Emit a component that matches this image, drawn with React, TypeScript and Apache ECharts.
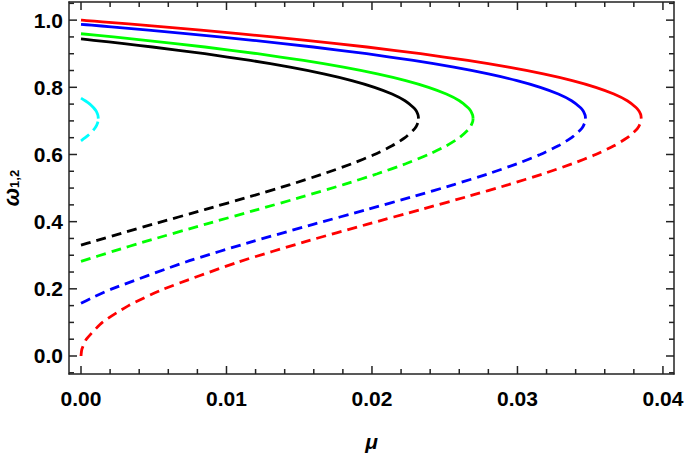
import React, { useEffect, useRef } from "react";
import * as echarts from "echarts";

// μ values and the two branches (upper solid, lower dashed) of each curve
const muRed = [0, 0.00006, 0.00037, 0.00147, 0.00327, 0.00567, 0.01082, 0.01548, 0.01965, 0.02334, 0.02659, 0.02939, 0.03178, 0.03377, 0.03538, 0.03663, 0.03755, 0.03815, 0.03834, 0.03846, 0.03849, 0.03851];
const upperRed = [1.0, 0.9998, 0.99875, 0.99499, 0.98869, 0.98, 0.96, 0.94, 0.92, 0.9, 0.88, 0.86, 0.84, 0.82, 0.8, 0.78, 0.76, 0.74, 0.73, 0.72, 0.715, 0.7071];
const lowerRed = [0, 0.02, 0.05, 0.1, 0.15, 0.199, 0.28, 0.3412, 0.3919, 0.4359, 0.475, 0.5103, 0.5426, 0.5724, 0.6, 0.6258, 0.6499, 0.6726, 0.6835, 0.694, 0.6991, 0.7071];

const muBlue = [0, 0.000725, 0.00208, 0.0072, 0.01182, 0.01596, 0.01963, 0.02285, 0.02563, 0.028, 0.02997, 0.03157, 0.03281, 0.03372, 0.03432, 0.03451, 0.03462, 0.03466, 0.03468];
const upperBlue = [0.9876, 0.985, 0.98, 0.96, 0.94, 0.92, 0.9, 0.88, 0.86, 0.84, 0.82, 0.8, 0.78, 0.76, 0.74, 0.73, 0.72, 0.715, 0.7071];
const lowerBlue = [0.1569, 0.1726, 0.199, 0.28, 0.3412, 0.3919, 0.4359, 0.475, 0.5103, 0.5426, 0.5724, 0.6, 0.6258, 0.6499, 0.6726, 0.6835, 0.694, 0.6991, 0.7071];

const muGreen = [0, 0.00223, 0.00444, 0.00852, 0.01213, 0.0153, 0.01804, 0.02037, 0.02232, 0.02389, 0.02511, 0.02601, 0.02659, 0.02678, 0.02689, 0.02693, 0.02695];
const upperGreen = [0.9595, 0.95, 0.94, 0.92, 0.9, 0.88, 0.86, 0.84, 0.82, 0.8, 0.78, 0.76, 0.74, 0.73, 0.72, 0.715, 0.7071];
const lowerGreen = [0.2816, 0.3122, 0.3412, 0.3919, 0.4359, 0.475, 0.5103, 0.5426, 0.5724, 0.6, 0.6258, 0.6499, 0.6726, 0.6835, 0.694, 0.6991, 0.7071];

const muBlack = [0, 0.00087, 0.00295, 0.00491, 0.0085, 0.01165, 0.01437, 0.01668, 0.01861, 0.02017, 0.02138, 0.02227, 0.02285, 0.02304, 0.02315, 0.02318, 0.0232];
const upperBlack = [0.944, 0.94, 0.93, 0.92, 0.9, 0.88, 0.86, 0.84, 0.82, 0.8, 0.78, 0.76, 0.74, 0.73, 0.72, 0.715, 0.7071];
const lowerBlack = [0.3299, 0.3412, 0.3676, 0.3919, 0.4359, 0.475, 0.5103, 0.5426, 0.5724, 0.6, 0.6258, 0.6499, 0.6726, 0.6835, 0.694, 0.6991, 0.7071];

const muCyan = [0, 0.00029, 0.00061, 0.00085, 0.00103, 0.00114, 0.00117, 0.00119];
const upperCyan = [0.7678, 0.76, 0.75, 0.74, 0.73, 0.72, 0.715, 0.7071];
const lowerCyan = [0.6407, 0.6499, 0.6614, 0.6726, 0.6835, 0.694, 0.6991, 0.7071];

// axis ranges and ticks
const xRange = [-0.000825, 0.04076];
const yRange = [-0.0536, 1.054];
const xMajorTicks = [0, 0.01, 0.02, 0.03, 0.04];
const xMinorTicks = [0.002, 0.004, 0.006, 0.008, 0.012, 0.014, 0.016, 0.018, 0.022, 0.024, 0.026, 0.028, 0.032, 0.034, 0.036, 0.038];
const yMajorTicks = [0, 0.2, 0.4, 0.6, 0.8, 1.0];
const yMinorTicks = [-0.05, 0.05, 0.1, 0.15, 0.25, 0.3, 0.35, 0.45, 0.5, 0.55, 0.65, 0.7, 0.75, 0.85, 0.9, 0.95, 1.05];

const curves = [
  { name: "black", color: "#000000", mu: muBlack, upper: upperBlack, lower: lowerBlack },
  { name: "green", color: "#00ff00", mu: muGreen, upper: upperGreen, lower: lowerGreen },
  { name: "blue", color: "#0000ff", mu: muBlue, upper: upperBlue, lower: lowerBlue },
  { name: "red", color: "#ff0000", mu: muRed, upper: upperRed, lower: lowerRed },
  { name: "cyan", color: "#00ffff", mu: muCyan, upper: upperCyan, lower: lowerCyan },
];

const FONT = "'Liberation Sans', Arial, sans-serif";
const AXIS_COLOR = "#222";
const GRID = { left: 69, right: 11, top: 2, bottom: 79 };
const W = 685;
const H = 453;
const MAJOR_LEN = 8;
const MINOR_LEN = 5;

export default function App() {
  const ref = useRef<HTMLDivElement>(null);
  useEffect(() => {
    if (!ref.current) return;
    const chart = echarts.init(ref.current, undefined, { renderer: "svg" });

    const labelStyle = { fontSize: 21, fontWeight: "bold", color: "#000", fontFamily: FONT };
    const frameAxis = (isX: boolean, position: string, extra: any = {}) => ({
      type: "value",
      min: isX ? xRange[0] : yRange[0],
      max: isX ? xRange[1] : yRange[1],
      position,
      axisLine: { show: true, onZero: false, lineStyle: { color: AXIS_COLOR, width: 1.5 } },
      axisTick: { show: false },
      splitLine: { show: false },
      axisLabel: { show: false },
      ...extra,
    });

    const xAxes = [
      frameAxis(true, "bottom", {
        axisLabel: {
          show: true,
          customValues: xMajorTicks,
          margin: 14,
          ...labelStyle,
          formatter: (v: number) => v.toFixed(2),
        },
        name: "μ",
        nameLocation: "middle",
        nameGap: 58,
        nameTextStyle: { fontSize: 21, lineHeight: 18, fontWeight: "bold", fontStyle: "italic", color: "#000", fontFamily: FONT },
      }),
      frameAxis(true, "top"),
    ];
    const yAxes = [
      frameAxis(false, "left", {
        axisLabel: {
          show: true,
          customValues: yMajorTicks,
          margin: 6,
          ...labelStyle,
          formatter: (v: number) => v.toFixed(1),
        },
        name: "{w|ω}{s|1,2}",
        nameLocation: "middle",
        nameGap: 30,
        nameTextStyle: {
          color: "#000",
          fontFamily: FONT,
          rich: {
            w: { fontSize: 22, fontWeight: "bold", fontStyle: "italic", fontFamily: FONT, color: "#000", lineHeight: 18 },
            s: { fontSize: 13, fontWeight: "bold", fontFamily: FONT, color: "#000", verticalAlign: "bottom", lineHeight: 12 },
          },
        },
      }),
      frameAxis(false, "right"),
    ];

    // tick marks: one short two-point line series per tick, in data units through the axes' scales
    const plotW = W - GRID.left - GRID.right;
    const plotH = H - GRID.top - GRID.bottom;
    const dxPerPx = (xRange[1] - xRange[0]) / plotW;
    const dyPerPx = (yRange[1] - yRange[0]) / plotH;
    const tickSegments: number[][][] = [];
    const addX = (v: number, len: number) => {
      const d = len * dyPerPx;
      tickSegments.push([[v, yRange[0]], [v, yRange[0] + d]]);
      tickSegments.push([[v, yRange[1] - d], [v, yRange[1]]]);
    };
    const addY = (v: number, len: number) => {
      const d = len * dxPerPx;
      tickSegments.push([[xRange[0], v], [xRange[0] + d, v]]);
      tickSegments.push([[xRange[1] - d, v], [xRange[1], v]]);
    };
    xMajorTicks.forEach((v) => addX(v, MAJOR_LEN));
    xMinorTicks.forEach((v) => addX(v, MINOR_LEN));
    yMajorTicks.forEach((v) => addY(v, MAJOR_LEN));
    yMinorTicks.forEach((v) => addY(v, MINOR_LEN));

    const series: any[] = [];
    curves.forEach((c) => {
      series.push({
        type: "line",
        name: c.name + " upper",
        data: c.mu.map((m, i) => [m, c.upper[i]]),
        showSymbol: false,
        smooth: 0.2,
        lineStyle: { color: c.color, width: 2.8, type: "solid" },
      });
      series.push({
        type: "line",
        name: c.name + " lower",
        data: c.mu.map((m, i) => [m, c.lower[i]]),
        showSymbol: false,
        smooth: 0.2,
        lineStyle: { color: c.color, width: 2.8, type: [10, 6] },
      });
    });
    tickSegments.forEach((seg, i) => {
      series.push({
        type: "line",
        name: "tick" + i,
        data: seg,
        showSymbol: false,
        silent: true,
        clip: false,
        z: 5,
        lineStyle: { color: AXIS_COLOR, width: 1.5, type: "solid" },
      });
    });

    chart.setOption({
      animation: false,
      backgroundColor: "#ffffff",
      grid: { ...GRID, containLabel: false, outerBoundsMode: "none" },
      xAxis: xAxes,
      yAxis: yAxes,
      series,
    });

    return () => chart.dispose();
  }, []);
  return (
    <div
      ref={ref}
      style={{ position: "fixed", left: 0, top: 0, width: W, height: H, background: "#fff" }}
    />
  );
}
